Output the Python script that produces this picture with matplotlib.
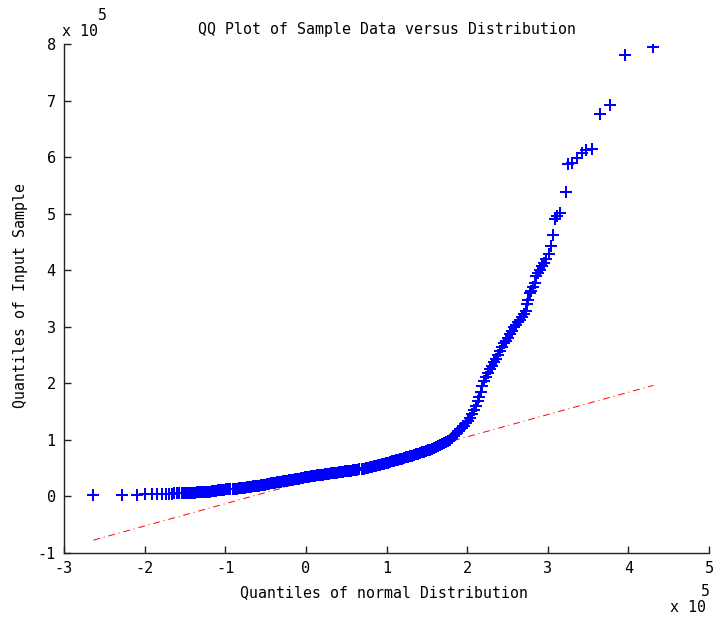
import numpy as np
import matplotlib
matplotlib.use("Agg")
import matplotlib.pyplot as plt
from matplotlib.ticker import FixedLocator, FuncFormatter

plt.rcParams["font.family"] = ["DejaVu Sans Mono"]
plt.rcParams["axes.unicode_minus"] = False

SCALE = 1e5

# Theoretical normal quantiles (x) and sorted sample values (y), in units of 1e5
tail_x = [-2.636, -2.284, -2.098, -1.995, -1.912, -1.842, -1.788, -1.740,
          -1.700, -1.664, -1.630, -1.598, -1.568, -1.540, -1.513, -1.487,
          -1.462, -1.438, -1.415, -1.393, -1.372, -1.351, -1.331, -1.312,
          -1.293, -1.275, -1.257, -1.240, -1.223]
tail_y = [0.025, 0.028, 0.032, 0.036, 0.040, 0.043, 0.046, 0.048,
          0.050, 0.052, 0.054, 0.056, 0.058, 0.060, 0.062, 0.063,
          0.065, 0.066, 0.067, 0.068, 0.069, 0.070, 0.071, 0.072,
          0.073, 0.074, 0.075, 0.076, 0.078]

body_x = [-1.205, -1.185, -1.160, -1.135, -1.110, -1.085, -1.060, -1.035,
          -1.010, -0.985, -0.960, -0.935, -0.910, -0.885, -0.860, -0.835,
          -0.810, -0.785, -0.760, -0.735, -0.710, -0.685, -0.660, -0.635,
          -0.610, -0.585, -0.560, -0.535, -0.510, -0.485, -0.460, -0.435,
          -0.410, -0.385, -0.360, -0.335, -0.310, -0.285, -0.260, -0.235,
          -0.210, -0.185, -0.160, -0.135, -0.110, -0.085, -0.060, -0.035,
          -0.010, 0.015, 0.040, 0.065, 0.090, 0.115, 0.140, 0.165,
          0.190, 0.215, 0.240, 0.265, 0.290, 0.315, 0.340, 0.365,
          0.390, 0.415, 0.440, 0.465, 0.490, 0.515, 0.540, 0.565,
          0.590, 0.615, 0.640, 0.665, 0.690, 0.715, 0.740, 0.765,
          0.790, 0.815, 0.840, 0.865, 0.890, 0.915, 0.940, 0.965,
          0.990, 1.015, 1.040, 1.065, 1.090, 1.115, 1.140, 1.165,
          1.190, 1.215, 1.240, 1.265, 1.290, 1.315, 1.340, 1.365,
          1.390, 1.415, 1.440, 1.465, 1.490, 1.515, 1.540, 1.565,
          1.590, 1.615, 1.640, 1.665, 1.690, 1.715, 1.740, 1.765,
          1.790, 1.815, 1.840, 1.865, 1.890, 1.915, 1.940, 1.965,
          1.990, 2.015, 2.040, 2.065, 2.090, 2.110, 2.130, 2.150,
          2.170, 2.190, 2.210]
body_y = [0.080, 0.086, 0.092, 0.097, 0.103, 0.108, 0.113, 0.117,
          0.121, 0.124, 0.127, 0.130, 0.133, 0.136, 0.139, 0.142,
          0.146, 0.151, 0.156, 0.161, 0.166, 0.171, 0.176, 0.181,
          0.187, 0.193, 0.199, 0.205, 0.211, 0.217, 0.223, 0.229,
          0.236, 0.242, 0.248, 0.254, 0.261, 0.267, 0.273, 0.279,
          0.286, 0.292, 0.298, 0.304, 0.311, 0.317, 0.323, 0.329,
          0.335, 0.341, 0.347, 0.353, 0.359, 0.365, 0.371, 0.377,
          0.383, 0.388, 0.393, 0.398, 0.403, 0.408, 0.413, 0.418,
          0.423, 0.428, 0.433, 0.438, 0.443, 0.448, 0.453, 0.458,
          0.463, 0.469, 0.475, 0.481, 0.487, 0.494, 0.501, 0.508,
          0.515, 0.523, 0.531, 0.540, 0.549, 0.559, 0.569, 0.579,
          0.590, 0.600, 0.610, 0.620, 0.630, 0.640, 0.650, 0.660,
          0.670, 0.680, 0.690, 0.700, 0.711, 0.722, 0.733, 0.744,
          0.755, 0.767, 0.779, 0.791, 0.803, 0.815, 0.828, 0.841,
          0.855, 0.870, 0.886, 0.903, 0.921, 0.940, 0.960, 0.981,
          1.006, 1.035, 1.065, 1.100, 1.150, 1.185, 1.215, 1.250,
          1.290, 1.340, 1.395, 1.455, 1.530, 1.600, 1.680, 1.760,
          1.850, 1.950, 2.040]

upper_x = [2.235, 2.260, 2.285, 2.310, 2.335, 2.360, 2.385, 2.410,
           2.435, 2.460, 2.485, 2.510, 2.535, 2.560, 2.585, 2.610,
           2.635, 2.660, 2.685, 2.705, 2.725, 2.745, 2.760, 2.775,
           2.790, 2.815, 2.840, 2.860, 2.875, 2.900, 2.925, 2.955,
           2.980, 3.013, 3.040, 3.070, 3.096, 3.120, 3.154, 3.224,
           3.257, 3.295, 3.360, 3.423, 3.476, 3.547, 3.642, 3.774,
           3.964, 4.310]
upper_y = [2.110, 2.180, 2.250, 2.300, 2.370, 2.430, 2.500, 2.580,
           2.650, 2.710, 2.750, 2.800, 2.870, 2.930, 2.990, 3.030,
           3.080, 3.120, 3.180, 3.220, 3.280, 3.400, 3.480, 3.600,
           3.630, 3.700, 3.770, 3.900, 3.950, 4.000, 4.070, 4.120,
           4.200, 4.290, 4.430, 4.630, 4.910, 4.950, 5.010, 5.390,
           5.870, 5.890, 5.990, 6.070, 6.130, 6.150, 6.770, 6.920,
           7.800, 7.950]

# Reference line endpoints (through the quartiles, extended to the data range)
ref_x = [-2.636, 4.310]
ref_y = [-0.773, 1.964]

x_ticks = [-3, -2, -1, 0, 1, 2, 3, 4, 5]
y_ticks = [-1, 0, 1, 2, 3, 4, 5, 6, 7, 8]

qx = np.array(tail_x + body_x + upper_x) * SCALE
qy = np.array(tail_y + body_y + upper_y) * SCALE

W, H = 713, 620
fig = plt.figure(figsize=(W / 100, H / 100), dpi=100)
ax = fig.add_axes([64 / W, 1 - 553 / H, (709 - 64) / W, (553 - 44) / H])

ax.plot(np.array(ref_x) * SCALE, np.array(ref_y) * SCALE, color=(1, 0, 0),
        linewidth=0.7, dashes=[7, 4, 1, 4], zorder=1)
ax.plot(qx, qy, linestyle="none", marker="+", color=(0, 0, 1),
        markersize=8.8, markeredgewidth=1.45, zorder=2)

ax.set_xlim(x_ticks[0] * SCALE, x_ticks[-1] * SCALE)
ax.set_ylim(y_ticks[0] * SCALE, y_ticks[-1] * SCALE)
ax.xaxis.set_major_locator(FixedLocator([t * SCALE for t in x_ticks]))
ax.yaxis.set_major_locator(FixedLocator([t * SCALE for t in y_ticks]))
fmt = FuncFormatter(lambda v, pos: "%d" % round(v / SCALE))
ax.xaxis.set_major_formatter(fmt)
ax.yaxis.set_major_formatter(fmt)

for side in ("top", "right"):
    ax.spines[side].set_visible(False)
for side in ("left", "bottom"):
    ax.spines[side].set_linewidth(1.0)
    ax.spines[side].set_color("#222222")
ax.tick_params(direction="in", length=5, width=1.0, color="#222222",
               labelsize=11, pad=6)

fs = 10.7
ax.set_title("QQ Plot of Sample Data versus Distribution", fontsize=fs,
             pad=0, y=1 + 10 / 509)
fig.text(384 / W, 1 - 593 / H, "Quantiles of normal Distribution",
         fontsize=fs, ha="center", va="center")
fig.text(21 / W, 1 - 295 / H, "Quantiles of Input Sample", fontsize=fs,
         ha="center", va="center", rotation=90)

# Exponent annotations for both axes
fig.text(62 / W, 1 - 32 / H, "x 10", fontsize=fs, ha="left", va="center")
fig.text(102 / W, 1 - 15 / H, "5", fontsize=fs, ha="center", va="center")
fig.text(705 / W, 1 - 592 / H, "5", fontsize=fs, ha="center", va="center")
fig.text(706 / W, 1 - 608 / H, "x 10", fontsize=fs, ha="right", va="center")

fig.savefig("out.png", dpi=100)
